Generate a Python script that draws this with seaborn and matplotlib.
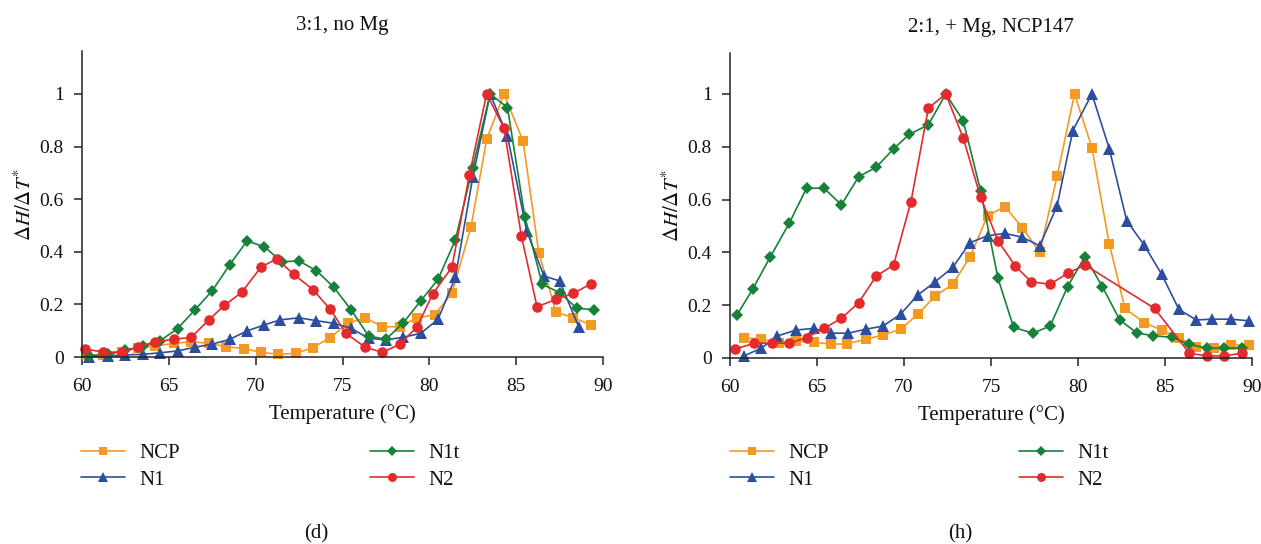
import matplotlib
matplotlib.use("Agg")
import matplotlib.pyplot as plt
import seaborn as sns
import pandas as pd

# ---------------- data: panel (d) 3:1, no Mg ----------------
d_ncp_t = [60.3, 61.2, 62.3, 63.2, 64.2, 65.3, 66.3, 67.3, 68.3, 69.3, 70.3, 71.3, 72.3, 73.3, 74.3,
           75.3, 76.3, 77.3, 78.3, 79.3, 80.3, 81.3, 82.4, 83.3, 84.3, 85.4, 86.3, 87.3, 88.3, 89.3]
d_ncp_v = [0.008, 0.008, 0.02, 0.035, 0.042, 0.052, 0.058, 0.052, 0.039, 0.032, 0.018, 0.01, 0.014, 0.036, 0.074,
           0.128, 0.149, 0.115, 0.115, 0.149, 0.16, 0.242, 0.495, 0.827, 1.0, 0.82, 0.397, 0.17, 0.149, 0.122]

d_n1_t = [60.4, 61.5, 62.5, 63.5, 64.5, 65.5, 66.5, 67.5, 68.5, 69.5, 70.5, 71.4, 72.5, 73.5, 74.5,
          75.5, 76.5, 77.5, 78.5, 79.5, 80.5, 81.5, 82.5, 83.5, 84.5, 85.6, 86.6, 87.5, 88.6]
d_n1_v = [0.001, 0.004, 0.008, 0.01, 0.016, 0.023, 0.037, 0.049, 0.067, 0.099, 0.122, 0.141, 0.149, 0.138, 0.128,
          0.109, 0.071, 0.065, 0.075, 0.09, 0.143, 0.303, 0.683, 1.0, 0.84, 0.48, 0.308, 0.289, 0.115]

d_n1t_t = [60.4, 61.5, 62.5, 63.5, 64.5, 65.5, 66.5, 67.5, 68.5, 69.5, 70.5, 71.5, 72.5, 73.5, 74.5,
           75.5, 76.5, 77.5, 78.5, 79.5, 80.5, 81.5, 82.5, 83.5, 84.5, 85.5, 86.5, 87.5, 88.5, 89.5]
d_n1t_v = [0.005, 0.01, 0.027, 0.04, 0.062, 0.108, 0.179, 0.252, 0.35, 0.441, 0.419, 0.362, 0.365, 0.328, 0.265,
           0.179, 0.08, 0.067, 0.13, 0.213, 0.295, 0.445, 0.72, 1.0, 0.948, 0.533, 0.276, 0.245, 0.185, 0.18]

d_n2_t = [60.2, 61.2, 62.3, 63.2, 64.2, 65.3, 66.3, 67.3, 68.2, 69.2, 70.3, 71.2, 72.2, 73.3, 74.3,
          75.2, 76.3, 77.3, 78.3, 79.3, 80.2, 81.3, 82.3, 83.3, 84.3, 85.3, 86.2, 87.3, 88.3, 89.3]
d_n2_v = [0.03, 0.019, 0.018, 0.037, 0.058, 0.067, 0.075, 0.141, 0.196, 0.246, 0.341, 0.373, 0.314, 0.256, 0.181,
          0.09, 0.037, 0.018, 0.048, 0.115, 0.24, 0.341, 0.69, 1.0, 0.87, 0.46, 0.191, 0.219, 0.242, 0.278]

# ---------------- data: panel (h) 2:1, + Mg, NCP147 ----------------
h_ncp_t = [60.8, 61.8, 62.8, 63.8, 64.8, 65.8, 66.7, 67.8, 68.8, 69.8, 70.8, 71.8, 72.8, 73.8, 74.8,
           75.8, 76.8, 77.8, 78.8, 79.8, 80.8, 81.8, 82.7, 83.8, 84.8, 85.8, 86.8, 87.8, 88.8, 89.8]
h_ncp_v = [0.077, 0.071, 0.058, 0.065, 0.059, 0.053, 0.053, 0.071, 0.087, 0.109, 0.166, 0.235, 0.279, 0.384, 0.539,
           0.573, 0.494, 0.4, 0.689, 1.0, 0.797, 0.431, 0.188, 0.134, 0.106, 0.077, 0.043, 0.039, 0.049, 0.049]

h_n1_t = [60.8, 61.8, 62.7, 63.8, 64.8, 65.8, 66.8, 67.8, 68.8, 69.8, 70.8, 71.8, 72.8, 73.8, 74.8,
          75.8, 76.8, 77.8, 78.8, 79.7, 80.8, 81.8, 82.8, 83.8, 84.8, 85.8, 86.8, 87.7, 88.8, 89.8]
h_n1_v = [0.008, 0.037, 0.083, 0.106, 0.112, 0.094, 0.094, 0.109, 0.121, 0.166, 0.239, 0.289, 0.343, 0.437, 0.463,
          0.472, 0.457, 0.425, 0.577, 0.861, 1.0, 0.792, 0.52, 0.428, 0.318, 0.184, 0.144, 0.147, 0.147, 0.141]

h_n1t_t = [60.4, 61.3, 62.3, 63.4, 64.4, 65.4, 66.4, 67.4, 68.4, 69.4, 70.3, 71.4, 72.4, 73.4, 74.4,
           75.4, 76.3, 77.4, 78.4, 79.4, 80.4, 81.4, 82.4, 83.4, 84.3, 85.4, 86.4, 87.4, 88.4, 89.4]
h_n1t_v = [0.163, 0.26, 0.381, 0.51, 0.643, 0.643, 0.58, 0.687, 0.722, 0.792, 0.847, 0.883, 1.0, 0.899, 0.634,
           0.302, 0.116, 0.094, 0.121, 0.27, 0.384, 0.27, 0.144, 0.094, 0.085, 0.078, 0.052, 0.037, 0.037, 0.039]

h_n2_t = [60.3, 61.4, 62.4, 63.4, 64.4, 65.4, 66.4, 67.4, 68.4, 69.4, 70.4, 71.4, 72.4, 73.4, 74.4,
          75.4, 76.4, 77.3, 78.4, 79.4, 80.4, 84.4, 86.4, 87.4, 88.4, 89.4]
h_n2_v = [0.034, 0.056, 0.056, 0.056, 0.077, 0.112, 0.15, 0.21, 0.31, 0.352, 0.592, 0.946, 1.0, 0.834, 0.609,
          0.444, 0.348, 0.289, 0.279, 0.321, 0.352, 0.188, 0.018, 0.008, 0.008, 0.018]

series_names = ["NCP", "N1", "N1t", "N2"]
titles = ["3:1, no Mg", "2:1, + Mg, NCP147"]
panel_labels = ["(d)", "(h)"]
x_ticks = [60, 65, 70, 75, 80, 85, 90]
y_ticks = [0, 0.2, 0.4, 0.6, 0.8, 1]
y_tick_labels = ["0", "0.2", "0.4", "0.6", "0.8", "1"]

panels = [
    {"NCP": (d_ncp_t, d_ncp_v), "N1": (d_n1_t, d_n1_v), "N1t": (d_n1t_t, d_n1t_v), "N2": (d_n2_t, d_n2_v)},
    {"NCP": (h_ncp_t, h_ncp_v), "N1": (h_n1_t, h_n1_v), "N1t": (h_n1t_t, h_n1t_v), "N2": (h_n2_t, h_n2_v)},
]

# ---------------- styles ----------------
colors = {"NCP": "#F39A22", "N1": "#2D4E9E", "N1t": "#178039", "N2": "#E32A2C"}
markers = {"NCP": "s", "N1": "^", "N1t": "D", "N2": "o"}
msizes = {"NCP": 6.8, "N1": 8.2, "N1t": 6.2, "N2": 7.6}

sns.set_style("ticks")
plt.rcParams["font.family"] = ["Liberation Serif", "DejaVu Serif"]
plt.rcParams["mathtext.fontset"] = "stix"

W, H = 1261, 544
fig = plt.figure(figsize=(W / 100, H / 100), dpi=100)

# axes placement in pixels: (left, right, top, bottom)
boxes = [(82, 603, 51, 357), (730, 1252, 53, 358)]
legend_cols = [(81, 370), (730, 1019)]
panel_x = [316, 960]
ylims = [1.163, 1.155]

for i, data in enumerate(panels):
    l, r, t, b = boxes[i]
    ax = fig.add_axes([l / W, 1 - b / H, (r - l) / W, (b - t) / H])
    for name in series_names:
        xs, ys = data[name]
        df = pd.DataFrame({"T": xs, "v": ys})
        sns.lineplot(data=df, x="T", y="v", ax=ax, color=colors[name], marker=markers[name],
                     markersize=msizes[name], markeredgewidth=0, linewidth=1.2,
                     estimator=None, sort=False, label=name, clip_on=False)
    if ax.get_legend() is not None:
        ax.get_legend().remove()
    ax.set_xlim(60, 90)
    ax.set_ylim(0, ylims[i])
    ax.set_xticks(x_ticks)
    ax.set_yticks(y_ticks)
    ax.set_yticklabels(y_tick_labels)
    sns.despine(ax=ax)
    for s in ["left", "bottom"]:
        ax.spines[s].set_linewidth(1.1)
        ax.spines[s].set_color("#222222")
    ax.tick_params(axis="both", direction="out", length=6, width=1.1, colors="#222222",
                   labelsize=14, labelcolor="#111111")
    ax.tick_params(axis="x", pad=9)
    ax.tick_params(axis="y", pad=7)
    ax.set_xlabel("Temperature (°C)", fontsize=15, color="#111111", labelpad=7)
    ax.set_ylabel(r"$\Delta H/\Delta T^{*}$", fontsize=15, color="#111111", labelpad=3)
    ax.set_title(titles[i], fontsize=15, color="#111111", pad=15)

    handles, labels = ax.get_legend_handles_labels()
    hmap = dict(zip(labels, handles))
    c1, c2 = legend_cols[i]
    for col_x, names in ((c1, ["NCP", "N1"]), (c2, ["N1t", "N2"])):
        leg = fig.legend([hmap[n] for n in names], names, loc="center left",
                         bbox_to_anchor=(col_x / W, 1 - 466.5 / H), frameon=False,
                         fontsize=15, handlelength=2.1, handletextpad=0.7,
                         borderpad=0, borderaxespad=0, labelspacing=0.35, markerscale=0.85)
        for txt in leg.get_texts():
            txt.set_color("#111111")
    fig.text(panel_x[i] / W, 1 - 534 / H, panel_labels[i], ha="center", va="center",
             fontsize=15, color="#111111")

fig.savefig("out.png", dpi=100)
